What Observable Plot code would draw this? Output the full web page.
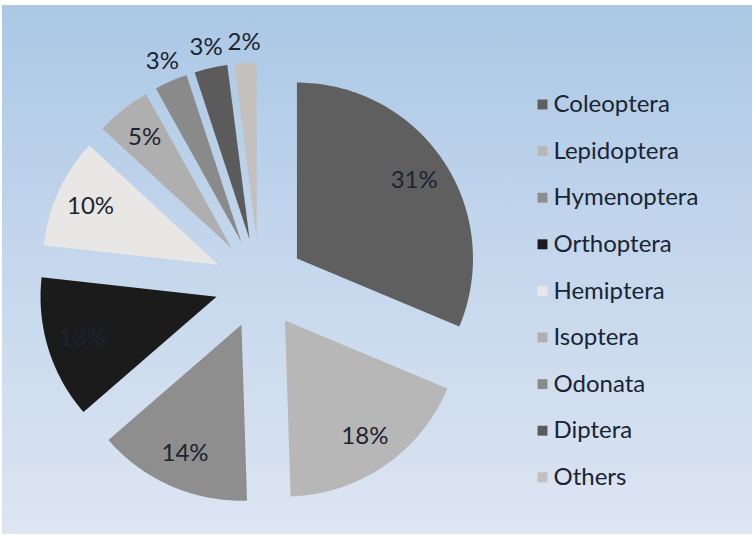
<!DOCTYPE html>
<html><head><meta charset="utf-8">
<script src="https://cdn.jsdelivr.net/npm/d3@7"></script>
<script src="https://cdn.jsdelivr.net/npm/@observablehq/plot@0.6"></script>
<style>body{margin:0;background:#fff;} #chart svg{display:block;}</style>
</head><body><div id="chart"></div>
<script>
const categories = ["Coleoptera","Lepidoptera","Hymenoptera","Orthoptera","Hemiptera","Isoptera","Odonata","Diptera","Others"];
const percents = [31,18,14,13,10,5,3,3,2];
const colors = ["#5f5f5f","#b7b7b7","#8e8e8e","#1b1b1b","#e8e7e6","#afafaf","#8a8a8a","#5b5b5b","#c3c0bd"];

const W = 754, H = 535;
const CX = 259, CY = 283, R = 176;          // pie centre and radius (pixels)
const EXPLODE = 45 / R;                      // slice offset in radius units
const LEG_X = 542, LEG_Y0 = 104, LEG_DY = 46.6;

const arcs = d3.pie().sort(null).value(d => d.value)(categories.map((name, i) => ({name, value: percents[i]})));
const slicePts = [];
const labels = [];
arcs.forEach(p => {
  const name = p.data.name;
  const mid = (p.startAngle + p.endAngle) / 2;
  const ox = EXPLODE * Math.sin(mid), oy = EXPLODE * Math.cos(mid);
  slicePts.push({name, x: ox, y: oy});
  const n = Math.max(8, Math.ceil((p.endAngle - p.startAngle) / 0.02));
  for (let k = 0; k <= n; k++) {
    const a = p.startAngle + (p.endAngle - p.startAngle) * k / n;
    slicePts.push({name, x: ox + Math.sin(a), y: oy + Math.cos(a)});
  }
  slicePts.push({name, x: ox, y: oy});
  const lr = p.data.value < 4 ? 1.12 : 0.8;
  labels.push({name, text: p.data.value + "%", x: ox + lr * Math.sin(mid), y: oy + lr * Math.cos(mid)});
});

const legend = categories.map((name, i) => ({
  name,
  x: (LEG_X - CX) / R,
  tx: (LEG_X + 11 - CX) / R,
  y: (CY - (LEG_Y0 + i * LEG_DY)) / R
}));

const chart = Plot.plot({
  width: W, height: H,
  margin: 0,
  x: {domain: [(0 - CX) / R, (W - CX) / R], axis: null},
  y: {domain: [(CY - H) / R, CY / R], axis: null},
  color: {domain: categories, range: colors},
  style: {fontFamily: "Lato, sans-serif", background: "transparent", overflow: "visible"},
  marks: [
    Plot.line(slicePts, {x: "x", y: "y", z: "name", fill: "name", stroke: "none", curve: "linear"}),
    Plot.text(labels, {x: "x", y: "y", text: "text", fontSize: 24, fill: "#1c2430"}),
    Plot.dot(legend, {x: "x", y: "y", symbol: "square", r: 5.6, fill: "name", stroke: "none"}),
    Plot.text(legend, {x: "tx", y: "y", text: "name", textAnchor: "start", fontSize: 24, fill: "#1a2433"})
  ]
});
chart.style.background = "linear-gradient(to bottom, #abc8e5 0%, #c3d6ec 45%, #dde5f2 100%) 2px 5px / 750px 529px no-repeat, #ffffff";
document.getElementById("chart").appendChild(chart);
</script>
</body></html>
